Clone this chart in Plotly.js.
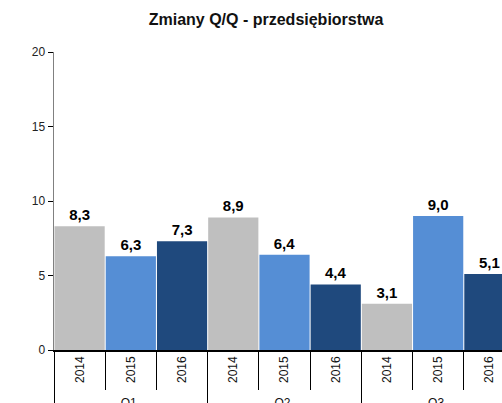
<!DOCTYPE html>
<html>
<head>
<meta charset="utf-8">
<script src="https://cdn.plot.ly/plotly-3.0.1.min.js"></script>
<style>
html,body{margin:0;padding:0;overflow:hidden;background:#fff;}
#chart{width:530px;height:425px;}
</style>
</head>
<body>
<div id="chart"></div>
<script>
const quarters = ['Q1','Q1','Q1','Q2','Q2','Q2','Q3','Q3','Q3'];
const years = ['2014','2015','2016','2014','2015','2016','2014','2015','2016'];
const values = [8.3, 6.3, 7.3, 8.9, 6.4, 4.4, 3.1, 9.0, 5.1];
const barColors = {'2014':'#BFBFBF','2015':'#558ED5','2016':'#1F497D'};

const trace = {
  type: 'bar',
  x: [quarters, years],
  y: values,
  marker: {color: years.map(y => barColors[y]), line: {width: 0}},
  texttemplate: '%{y:.1f}',
  textposition: 'outside',
  textfont: {family: 'Liberation Sans, Arial, sans-serif', size: 15, color: '#000', weight: 'bold'},
  cliponaxis: false,
  hoverinfo: 'none'
};

const layout = {
  width: 530, height: 425,
  margin: {l: 54, r: 15, t: 52, b: 75},
  separators: ',.',
  paper_bgcolor: '#fff', plot_bgcolor: '#fff',
  font: {family: 'Liberation Sans, Arial, sans-serif', size: 12, color: '#222'},
  title: {text: '<b>Zmiany Q/Q - przedsiębiorstwa</b>', x: 0.502, xanchor: 'center', y: 0.955, yanchor: 'middle',
          font: {size: 16, color: '#111'}},
  bargap: 0.02,
  showlegend: false,
  xaxis: {
    type: 'multicategory',
    showline: true, linecolor: '#000', linewidth: 1.5,
    ticks: 'outside', ticklen: 38, tickcolor: '#000', tickwidth: 1,
    tickson: 'boundaries',
    tickangle: -90,
    showdividers: true, dividercolor: '#000', dividerwidth: 1,
    tickfont: {size: 12, color: '#111'},
    showgrid: false, zeroline: false
  },
  yaxis: {
    range: [0, 20], tickvals: [0,5,10,15,20],
    showline: true, linecolor: '#808080', linewidth: 1.5,
    ticks: 'outside', ticklen: 5, tickcolor: '#000',
    showgrid: false, zeroline: false,
    tickfont: {size: 12, color: '#222'}
  }
};

Plotly.newPlot('chart', [trace], layout, {displayModeBar: false, staticPlot: true});
</script>
</body>
</html>
